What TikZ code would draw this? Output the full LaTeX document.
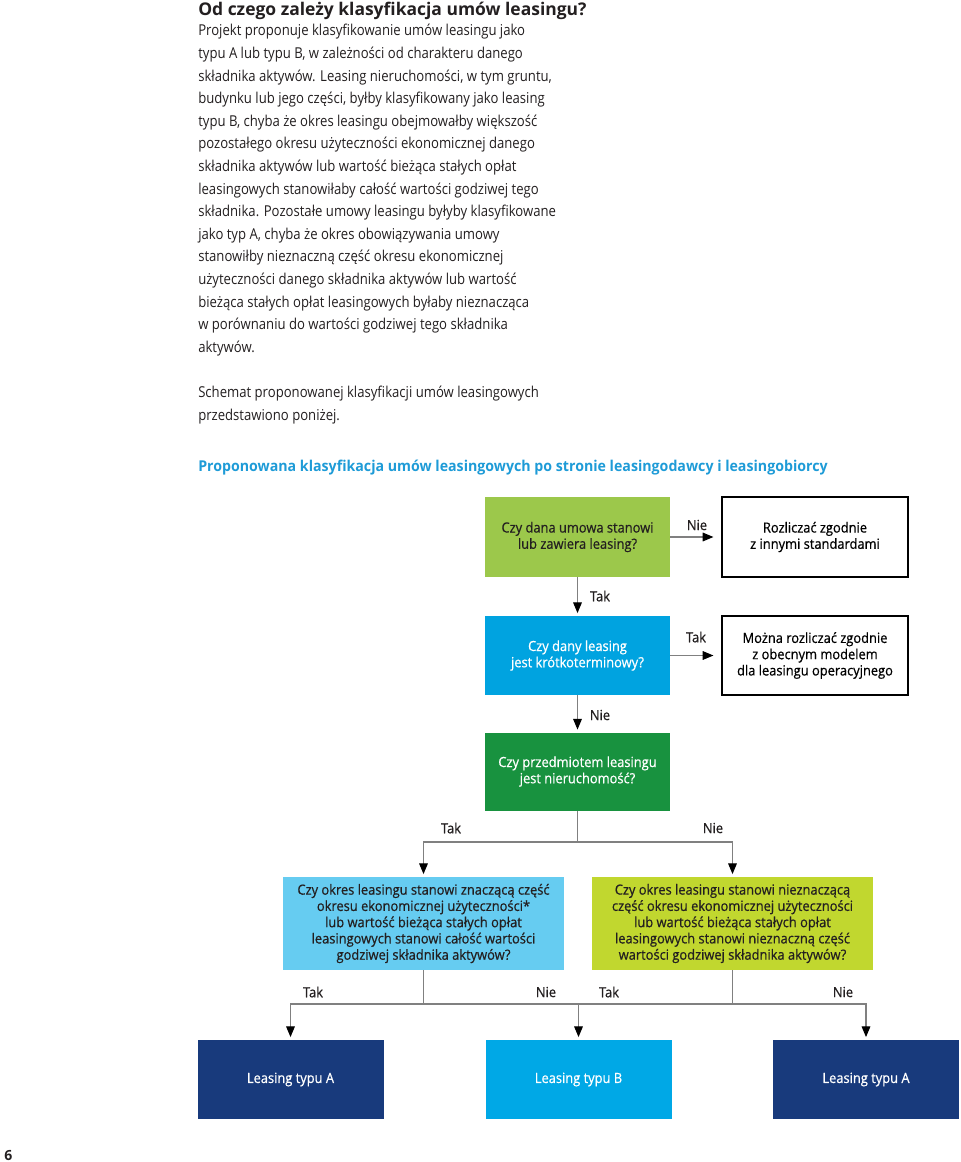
\documentclass[tikz,border=0pt]{standalone}
\usepackage{fontspec}
\setmainfont{Open Sans}
\newfontfamily\bodyf{Open Sans}[FakeStretch=0.875]
\newfontfamily\boxf{Open Sans}[FakeStretch=0.92,FakeBold=0.6]
\newfontfamily\headf{Open Sans}[FakeStretch=0.95]
\usetikzlibrary{arrows.meta}
\definecolor{cLgreen}{RGB}{156,200,75}
\definecolor{cBlue}{RGB}{0,163,224}
\definecolor{cDgreen}{RGB}{24,146,63}
\definecolor{cLblue}{RGB}{102,204,241}
\definecolor{cYgreen}{RGB}{193,215,47}
\definecolor{cNavy}{RGB}{24,58,124}
\definecolor{cBbox}{RGB}{0,168,230}
\definecolor{cHead}{RGB}{30,155,215}
\definecolor{cLine}{RGB}{128,128,128}
\definecolor{cText}{RGB}{35,31,32}
\newcommand\boxtext{\boxf\fontsize{10.5pt}{12.2pt}\selectfont}
\newcommand\bodytext{\bodyf\fontsize{11.25pt}{17pt}\selectfont}
\begin{document}
\begin{tikzpicture}[x=0.75pt,y=-0.75pt,
  bodyline/.style={anchor=base west, inner sep=0pt, font=\bodytext, text=cText},
  qbox/.style={rectangle, inner sep=0pt, minimum width=138.75pt, minimum height=60pt, align=center, font=\boxtext},
  wbox/.style={qbox, draw=black, line width=0.9pt, minimum width=139.5pt, text=black},
  widebox/.style={qbox, minimum width=210.75pt, minimum height=69.75pt, text=cText},
  endbox/.style={qbox, minimum width=139.5pt, minimum height=59.25pt, text=white},
  lbl/.style={inner sep=0pt, font=\boxtext, text=cText},
  line/.style={draw=cLine, line width=0.8pt},
  conn/.style={line, -{Triangle[length=8pt,width=6.5pt,color=black]}},
]
\useasboundingbox (0,0) rectangle (960,1162);

% title and body text
\node[anchor=base west, inner sep=0pt, font={\fontsize{13.1pt}{15pt}\selectfont\bfseries}, text=cText] (title) at (198,16) {Od czego zależy klasyfikacja umów leasingu?};
\foreach \t [count=\i] in {
  {Projekt proponuje klasyfikowanie umów leasingu jako},
  {typu A lub typu B, w zależności od charakteru danego},
  {składnika aktywów. Leasing nieruchomości, w tym gruntu,},
  {budynku lub jego części, byłby klasyfikowany jako leasing},
  {typu B, chyba że okres leasingu obejmowałby większość},
  {pozostałego okresu użyteczności ekonomicznej danego},
  {składnika aktywów lub wartość bieżąca stałych opłat},
  {leasingowych stanowiłaby całość wartości godziwej tego},
  {składnika. Pozostałe umowy leasingu byłyby klasyfikowane},
  {jako typ A, chyba że okres obowiązywania umowy},
  {stanowiłby nieznaczną część okresu ekonomicznej},
  {użyteczności danego składnika aktywów lub wartość},
  {bieżąca stałych opłat leasingowych byłaby nieznacząca},
  {w porównaniu do wartości godziwej tego składnika},
  {aktywów.}}
  \node[bodyline] (body\i) at (198,{36+(\i-1)*22.6}) {\t};
\node[bodyline] (sch1) at (198,397.6) {Schemat proponowanej klasyfikacji umów leasingowych};
\node[bodyline] (sch2) at (198,420.2) {przedstawiono poniżej.};

% heading
\node[anchor=base west, inner sep=0pt, font={\headf\fontsize{11.2pt}{13pt}\selectfont\bfseries}, text=cHead] (head) at (198,471) {Proponowana klasyfikacja umów leasingowych po stronie leasingodawcy i leasingobiorcy};

% flowchart boxes
\node[qbox, fill=cLgreen, text=cText] (q1) at (577.5,537) {Czy dana umowa stanowi\\lub zawiera leasing?};
\node[wbox] (r1) at (815,537) {Rozliczać zgodnie\\z innymi standardami};
\node[qbox, fill=cBlue, text=white, minimum height=59.25pt] (q2) at (577.5,655.5) {Czy dany leasing\\jest krótkoterminowy?};
\node[wbox, minimum height=59.25pt] (r2) at (815,655.5) {Można rozliczać zgodnie\\z obecnym modelem\\dla leasingu operacyjnego};
\node[qbox, fill=cDgreen, text=white, minimum height=58.5pt] (q3) at (577.5,771.5) {Czy przedmiotem leasingu\\jest nieruchomość?};
\node[widebox, fill=cLblue] (q4) at (423.5,923.5) {Czy okres leasingu stanowi znaczącą część\\okresu ekonomicznej użyteczności*\\lub wartość bieżąca stałych opłat\\leasingowych stanowi całość wartości\\godziwej składnika aktywów?};
\node[widebox, fill=cYgreen] (q5) at (732.5,923.5) {Czy okres leasingu stanowi nieznaczącą\\część okresu ekonomicznej użyteczności\\lub wartość bieżąca stałych opłat\\leasingowych stanowi nieznaczną część\\wartości godziwej składnika aktywów?};
\node[endbox, fill=cNavy] (a1) at (290.5,1079.5) {Leasing typu A};
\node[endbox, fill=cBbox] (b1) at (578.5,1079.5) {Leasing typu B};
\node[endbox, fill=cNavy] (a2) at (866,1079.5) {Leasing typu A};

% connectors
\draw[conn, shorten >=6pt] (q1.east) -- (r1.west);
\draw[conn, shorten >=6pt] (q2.east) -- (r2.west);
\draw[conn, shorten >=2pt] (q1.south) -- (q2.north);
\draw[conn, shorten >=2pt] (q2.south) -- (q3.north);
\coordinate (j1) at (577.5,842);
\draw[line] (q3.south) -- (j1);
\draw[conn, shorten >=2pt] (j1) -| (q4.north);
\draw[conn, shorten >=2pt] (j1) -| (q5.north);
\coordinate (j2) at (423.5,1004);
\coordinate (j3) at (732.5,1004);
\draw[line] (q4.south) -- (j2);
\draw[line] (q5.south) -- (j3);
\draw[conn, shorten >=2pt] (j2) -| (a1.north);
\draw[conn, shorten >=2pt] (j2) -| (b1.north);
\draw[line] (j3) -- (j3 -| b1.north);
\draw[conn, shorten >=2pt] (j3) -| (a2.north);

% labels
\node[lbl] (l1) at (697,525) {Nie};
\node[lbl] (l2) at (600,596) {Tak};
\node[lbl] (l3) at (696,637) {Tak};
\node[lbl] (l4) at (600,715) {Nie};
\node[lbl] (l5) at (451,828) {Tak};
\node[lbl] (l6) at (713,828) {Nie};
\node[lbl] (l7) at (313,992) {Tak};
\node[lbl] (l8) at (546,992) {Nie};
\node[lbl] (l9) at (609,992) {Tak};
\node[lbl] (l10) at (843,992) {Nie};

% page number
\node[anchor=base west, inner sep=0pt, font={\fontsize{10.5pt}{12pt}\selectfont\bfseries}, text=cText] (pg) at (4,1160) {6};
\end{tikzpicture}
\end{document}
